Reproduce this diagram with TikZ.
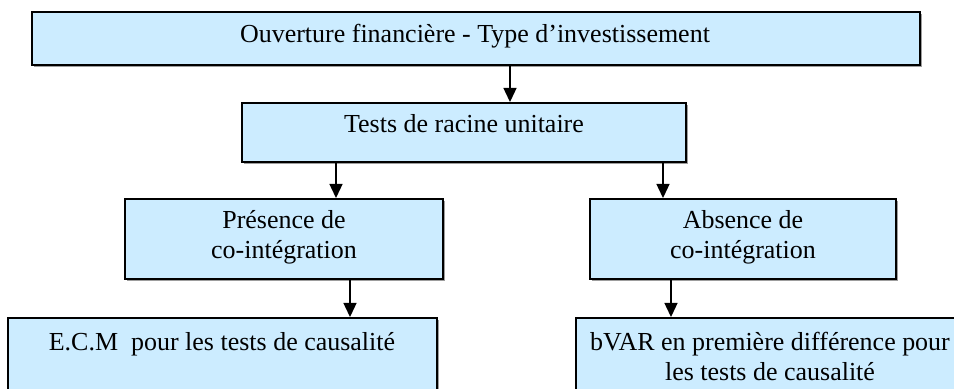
\documentclass[tikz,border=0pt]{standalone}
\usepackage{fontspec}
\setmainfont{Liberation Serif}
\usetikzlibrary{arrows.meta,shadows}
\definecolor{cbox}{HTML}{CCECFF}
\newcommand{\px}{0.462pt}
\tikzset{
  bx/.style={rectangle, draw=black, line width=0.9pt, fill=cbox, inner sep=0pt,
             drop shadow={shadow xshift=0.7pt, shadow yshift=-0.7pt, fill=black!55, opacity=0.7}},
  tx/.style={font=\fontsize{12}{13.86}\selectfont, align=center, inner sep=0pt},
  fl/.style={-{Triangle[length=6.5pt,width=6pt]}, draw=black, line width=0.7pt}
}

\begin{document}
\begin{tikzpicture}[x=\px, y=-\px]
\useasboundingbox (0,0) rectangle (954,389);
\clip (0,0) rectangle (954,389);

% boxes
\node[bx, minimum width=888*\px, minimum height=53*\px] (ouv) at (476,38.5) {};
\node[bx, minimum width=444*\px, minimum height=59*\px] (tests) at (464,132.5) {};
\node[bx, minimum width=318*\px, minimum height=80*\px] (pres) at (284,239) {};
\node[bx, minimum width=306*\px, minimum height=80*\px] (abs) at (743,239) {};
\node[bx, minimum width=429*\px, minimum height=82*\px] (ecm) at (222.5,359) {};
\node[bx, minimum width=388*\px, minimum height=82*\px] (bvar) at (770,359) {};

% texts
\node[tx] (ouv-t) at (475,36.5) {\strut Ouverture financière - Type d’investissement};
\node[tx] (tests-t) at (464,126) {\strut Tests de racine unitaire};
\node[tx] (pres-t) at (284,237) {\strut Présence de\\\strut co-intégration};
\node[tx] (abs-t) at (743,237) {\strut Absence de\\\strut co-intégration};
\node[tx] (ecm-t) at (222,344) {\strut E.C.M\ \ pour les tests de causalité};
\node[tx] (bvar-t) at (770,359) {\strut bVAR en première différence pour\\\strut les tests de causalité};

% arrows
\coordinate (x1) at (510,0);
\coordinate (x2) at (336,0);
\coordinate (x3) at (663,0);
\coordinate (x4) at (350,0);
\coordinate (x5) at (671,0);
\draw[fl] (ouv.south -| x1) -- (tests.north -| x1);
\draw[fl] (tests.south -| x2) -- (pres.north -| x2);
\draw[fl] (tests.south -| x3) -- (abs.north -| x3);
\draw[fl] (pres.south -| x4) -- (ecm.north -| x4);
\draw[fl] (abs.south -| x5) -- (bvar.north -| x5);

\end{tikzpicture}
\end{document}
